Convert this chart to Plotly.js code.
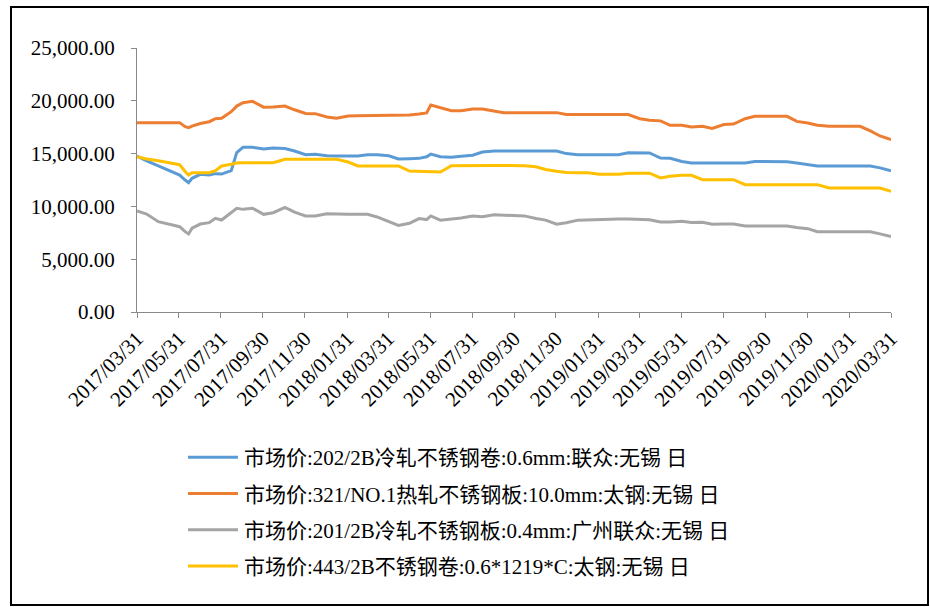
<!DOCTYPE html>
<html>
<head>
<meta charset="utf-8">
<script src="https://cdn.plot.ly/plotly-3.0.1.min.js"></script>
<style>
html,body{margin:0;padding:0;background:#fff;}
#chart{width:930px;height:607px;}
</style>
</head>
<body>
<div id="chart"></div>
<script>
// ---- data ----
const dates = [
"2017-03-31","2017-04-14","2017-05-01","2017-05-14","2017-06-01","2017-06-09","2017-06-14","2017-06-19",
"2017-07-01","2017-07-14","2017-07-23","2017-08-01","2017-08-15","2017-08-23","2017-09-01","2017-09-15",
"2017-10-01","2017-10-15","2017-11-01","2017-11-15","2017-12-01","2017-12-15","2018-01-01","2018-01-15",
"2018-02-01","2018-02-15","2018-03-01","2018-03-15","2018-04-01","2018-04-15","2018-05-01","2018-05-15",
"2018-05-26","2018-06-01","2018-06-15","2018-07-01","2018-07-15","2018-08-01","2018-08-15","2018-09-01",
"2018-09-15","2018-10-01","2018-10-15","2018-11-01","2018-11-15","2018-12-01","2018-12-15","2019-01-01",
"2019-01-15","2019-02-01","2019-02-15","2019-03-01","2019-03-15","2019-04-01","2019-04-15","2019-05-01",
"2019-05-15","2019-06-01","2019-06-15","2019-07-01","2019-07-15","2019-08-01","2019-08-15","2019-09-01",
"2019-09-15","2019-10-01","2019-10-15","2019-11-01","2019-11-15","2019-12-01","2019-12-15","2020-01-01",
"2020-01-15","2020-02-01","2020-02-15","2020-03-01","2020-03-15","2020-03-31"];

const s202 = [
14770,14300,13830,13450,12970,12500,12240,12660,13040,12970,13100,13060,13380,15100,15590,15590,
15430,15530,15480,15250,14900,14930,14800,14770,14770,14770,14900,14900,14800,14500,14520,14550,
14700,14950,14700,14650,14750,14850,15150,15250,15250,15250,15250,15250,15250,15250,15000,14900,
14900,14900,14900,14900,15080,15080,15060,14580,14560,14250,14110,14110,14110,14110,14110,14110,
14250,14250,14230,14230,14100,13990,13830,13830,13830,13830,13830,13830,13650,13380];

const s321 = [
17930,17930,17930,17930,17930,17550,17450,17600,17850,18020,18300,18340,18970,19500,19820,19950,
19400,19420,19500,19150,18800,18780,18470,18350,18560,18590,18590,18590,18590,18600,18650,18750,
18850,19600,19350,19060,19060,19220,19220,19000,18880,18880,18880,18880,18880,18880,18700,18700,
18700,18700,18750,18700,18700,18300,18150,18100,17680,17680,17520,17580,17380,17750,17800,18300,
18530,18530,18530,18530,18050,17900,17680,17580,17580,17580,17580,17150,16670,16320];

const s201 = [
9560,9280,8550,8330,8080,7610,7390,7930,8330,8460,8870,8710,9400,9820,9720,9820,
9250,9400,9900,9450,9100,9090,9300,9250,9250,9250,9250,9000,8600,8200,8400,8850,
8750,9100,8700,8800,8900,9090,9030,9200,9190,9160,9100,8850,8700,8320,8450,8700,
8740,8740,8800,8800,8800,8740,8740,8520,8520,8600,8480,8500,8320,8330,8330,8150,
8150,8150,8150,8150,8000,7890,7600,7600,7600,7600,7600,7600,7400,7150];

const s443 = [
14710,14490,14330,14170,13950,13300,12970,13190,13190,13190,13380,13830,13990,14100,14140,14140,
14140,14140,14460,14460,14460,14460,14460,14460,14200,13830,13830,13830,13830,13830,13350,13320,
13320,13320,13250,13850,13870,13870,13870,13870,13870,13870,13850,13750,13500,13320,13200,13190,
13190,13040,13040,13040,13150,13150,13150,12700,12850,12940,12940,12530,12530,12530,12530,12060,
12060,12060,12060,12060,12060,12060,12060,11740,11740,11740,11740,11740,11740,11430];

const seriesNames = [
"市场价:202/2B冷轧不锈钢卷:0.6mm:联众:无锡 日",
"市场价:321/NO.1热轧不锈钢板:10.0mm:太钢:无锡 日",
"市场价:201/2B冷轧不锈钢板:0.4mm:广州联众:无锡 日",
"市场价:443/2B不锈钢卷:0.6*1219*C:太钢:无锡 日"];
const seriesColors = ["#5B9BD5","#ED7D31","#A5A5A5","#FFC000"];

const tickDates = ["2017-03-31","2017-05-31","2017-07-31","2017-09-30","2017-11-30","2018-01-31",
"2018-03-31","2018-05-31","2018-07-31","2018-09-30","2018-11-30","2019-01-31","2019-03-31",
"2019-05-31","2019-07-31","2019-09-30","2019-11-30","2020-01-31","2020-03-31"];
const tickLabels = tickDates.map(d => d.replace(/-/g, "/"));
const yTicks = [0,5000,10000,15000,20000,25000];

// ---- chart ----
const FONT = "'Liberation Serif','Times New Roman','Noto Sans CJK SC',serif";
const FS = 21;
const values = [s202, s321, s201, s443];
const traces = values.map((v, i) => ({
  type: "scatter", mode: "lines", x: dates, y: v, name: seriesNames[i],
  legendgroup: "g" + i,
  line: {color: seriesColors[i], width: 3}
}));

const L = 137, R = 891, T = 48, B = 312, W = 930, H = 607;
const px2x = p => (p - L) / (R - L);
const px2y = p => (B - p) / (B - T);

const layout = {
  width: W, height: H,
  margin: {l: L, r: W - R, t: T, b: H - B, pad: 0},
  paper_bgcolor: "#fff", plot_bgcolor: "#fff",
  font: {family: FONT, size: FS, color: "#000"},
  showlegend: true,
  xaxis: {
    type: "date", range: ["2017-03-31", "2020-03-31"],
    tickmode: "array", tickvals: tickDates, ticktext: tickLabels,
    tickangle: -45, ticks: "outside", ticklen: 5, tickcolor: "#898989",
    showline: true, linecolor: "#898989", linewidth: 1,
    showgrid: false, zeroline: false,
    tickfont: {family: FONT, size: FS, color: "#000"}
  },
  yaxis: {
    range: [0, 25000], tickmode: "array", tickvals: yTicks,
    tickformat: ",.2f", ticks: "outside", ticklen: 5, tickcolor: "#898989",
    showline: true, linecolor: "#898989", linewidth: 1,
    showgrid: false, zeroline: false,
    tickfont: {family: FONT, size: FS, color: "#000"}, ticklabelstandoff: 12
  },
  legend: {
    orientation: "v", x: px2x(183), y: px2y(437), xanchor: "left", yanchor: "top",
    font: {family: FONT, size: FS, color: "#000"},
    itemwidth: 51,
    tracegroupgap: 6, bgcolor: "rgba(0,0,0,0)"
  },
  shapes: [{
    type: "rect", xref: "paper", yref: "paper", layer: "above",
    x0: px2x(11), x1: px2x(928), y0: px2y(605), y1: px2y(7),
    line: {color: "#000", width: 2}, fillcolor: "rgba(0,0,0,0)"
  }]
};

Plotly.newPlot("chart", traces, layout, {staticPlot: true, displayModeBar: false}).then(gd => {
  // lengthen the legend line samples to match the reference (50px)
  gd.querySelectorAll(".legend .js-line").forEach(p => p.setAttribute("d", "M5,0h50"));
});
</script>
</body>
</html>
